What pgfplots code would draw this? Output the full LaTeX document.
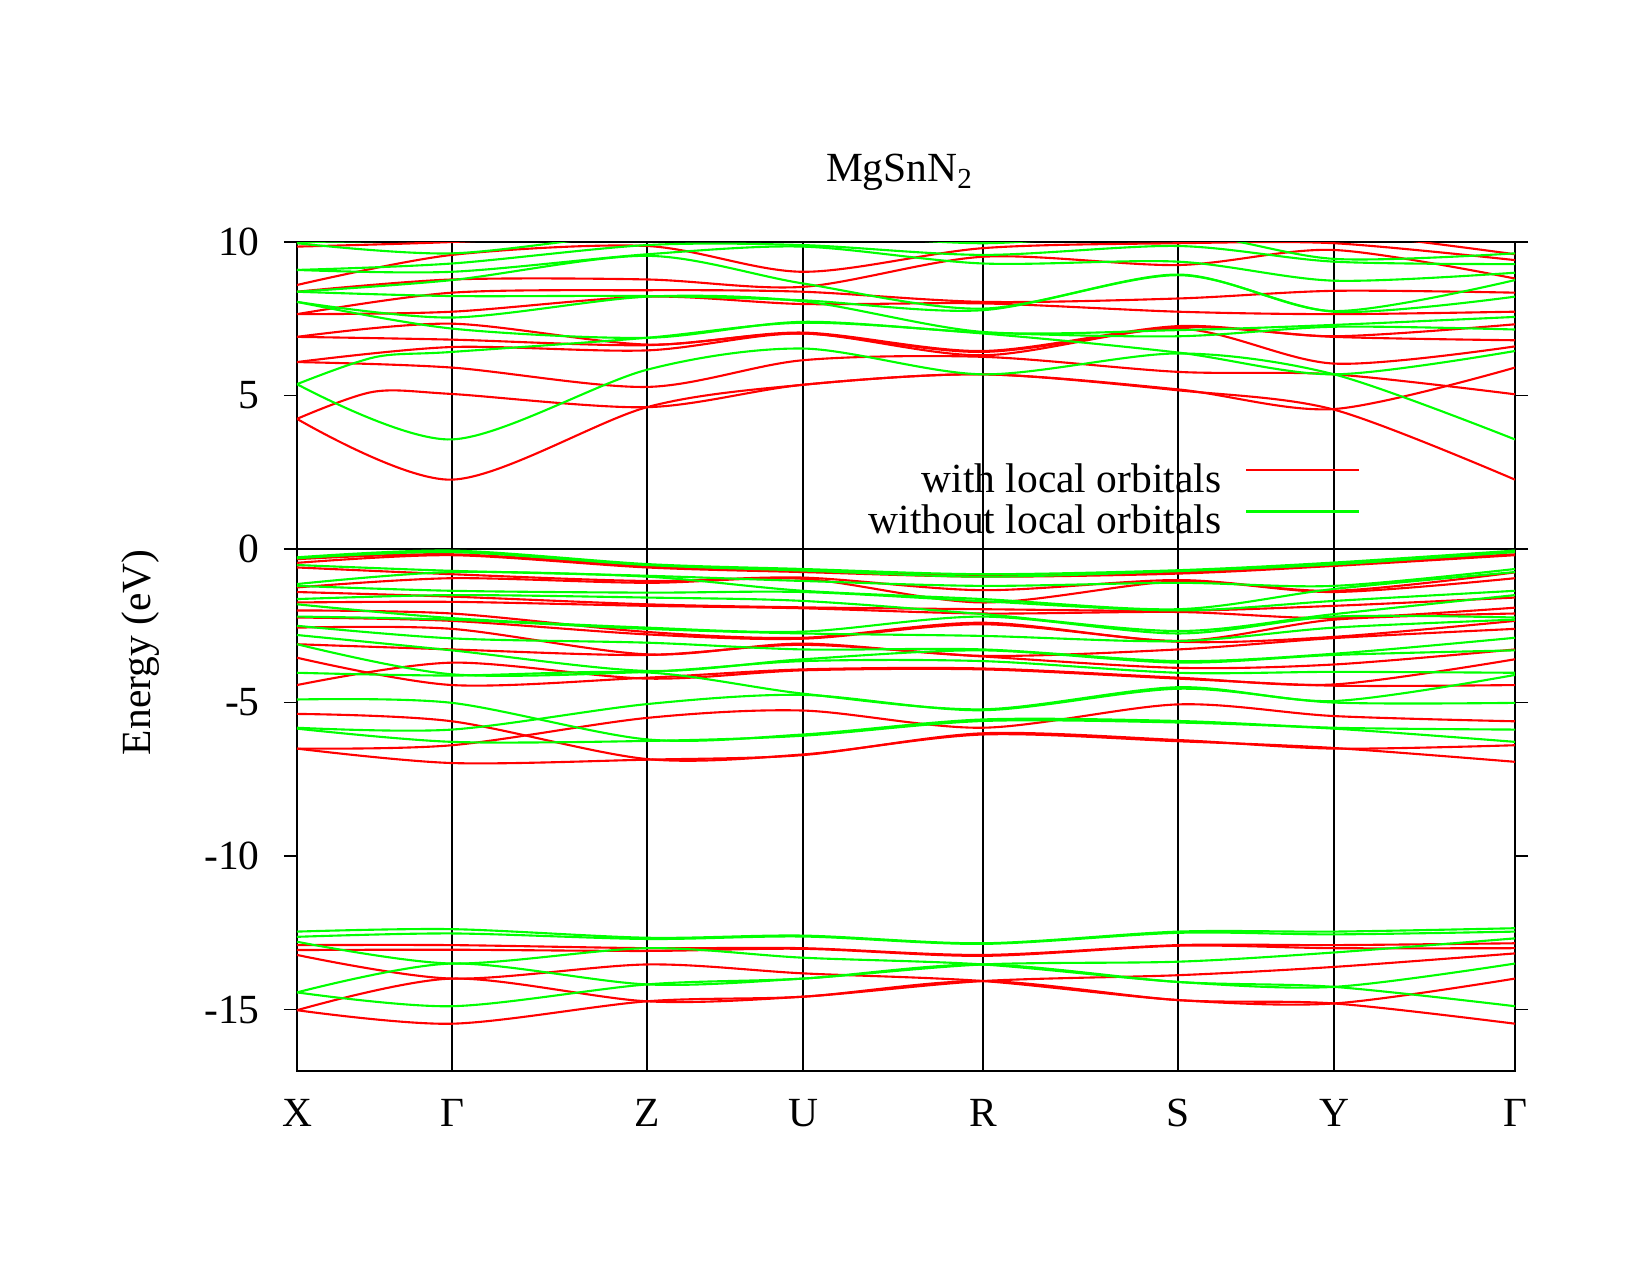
\documentclass[border=0pt]{standalone}
\usepackage{fontspec}
\setmainfont{Liberation Serif}
\usepackage{pgfplots}
\pgfplotsset{compat=1.18}
\begin{document}
\begin{tikzpicture}
\path[use as bounding box] (0,0) rectangle (16.5cm,12.75cm);
\begin{axis}[
  at={(2.97cm,2.04cm)}, anchor=south west,
  scale only axis, width=12.18cm, height=8.29cm,
  xmin=0, xmax=1218, ymin=-17, ymax=10,
  font=\fontsize{11.8pt}{14pt}\selectfont,
  xtick={0,155,350,506,686,881,1037,1218},
  xticklabels={X,Γ,Z,U,R,S,Y,Γ},
  xmajorgrids, grid style={black, line width=0.35pt},
  x tick style={draw=none},
  ytick={-15,-10,-5,0,5,10},
  tick align=outside, major tick length=0.13cm,
  y tick style={black, line width=0.5pt},
  /pgf/number format/assume math mode=true,
  tick label style={font=\fontsize{11.8pt}{14pt}\selectfont},
  yticklabel style={xshift=-0.12cm},
  xticklabel style={yshift=-0.025cm},
  axis line style={line width=0.8pt},
  title={MgSnN\textsubscript{2}},
  title style={at={(0.495,1.047)}, anchor=base, inner sep=0pt},
  ylabel={Energy (eV)},
  ylabel style={at={(-0.1285,0.505)}, anchor=center},
  every axis plot/.append style={line width=0.6pt},
  legend plot pos=right,
  legend cell align=right,
  legend image code/.code={\draw[#1] (0cm,0.14cm) -- (1.126cm,0.14cm);},
  legend style={at={(0.8727,0.733)}, anchor=north east, draw=none, fill=none,
    inner sep=0pt, outer sep=0pt, row sep=0pt, /tikz/column sep=0.24cm,
    nodes={inner sep=0pt, text height=8.3pt, text depth=3.5pt},
    font=\fontsize{11.8pt}{14pt}\selectfont},
]
\addplot[black, line width=0.35pt, forget plot] coordinates {(0,0) (1218,0)};

% ---------- with local orbitals (red): conduction bands
\addplot[red, smooth, forget plot] coordinates {(0,4.24) (155,2.26) (350,4.62) (506,5.35) (686,5.69) (881,5.17) (1037,4.54) (1218,2.26)};
\addplot[red, smooth, forget plot] coordinates {(0,4.24) (76,5.12) (155,5.05) (350,4.62) (506,5.35) (686,5.69) (881,5.20) (1037,4.56) (1218,5.91)};
\addplot[red, smooth, forget plot] coordinates {(0,6.09) (155,5.91) (350,5.28) (506,6.15) (686,6.26) (881,5.77) (1037,5.69) (1218,5.04)};
\addplot[red, smooth, forget plot] coordinates {(0,6.09) (155,6.58) (350,6.47) (506,7.02) (686,6.31) (881,7.18) (1037,6.04) (1218,6.60)};
\addplot[red, smooth, forget plot] coordinates {(0,6.91) (155,6.82) (350,6.64) (506,7.02) (686,6.42) (881,7.22) (1037,6.91) (1218,6.80)};
\addplot[red, smooth, forget plot] coordinates {(0,6.91) (155,7.34) (350,6.66) (506,7.05) (686,6.45) (881,7.26) (1037,6.93) (1218,7.32)};
\addplot[red, smooth, forget plot] coordinates {(0,7.65) (155,7.73) (350,8.22) (506,7.98) (686,8.00) (881,7.73) (1037,7.65) (1218,7.73)};
\addplot[red, smooth, forget plot] coordinates {(0,7.65) (155,8.35) (350,8.43) (506,8.38) (686,8.05) (881,8.16) (1037,8.41) (1218,8.35)};
\addplot[red, smooth, forget plot] coordinates {(0,8.38) (155,8.78) (350,8.78) (506,8.54) (686,9.52) (881,9.25) (1037,9.74) (1218,8.81)};
\addplot[red, smooth, forget plot] coordinates {(0,8.60) (155,9.58) (350,9.87) (506,9.03) (686,9.80) (881,9.96) (1037,9.96) (1218,9.41)};
\addplot[red, smooth, forget plot] coordinates {(0,9.85) (155,10.0) (350,10.3) (506,10.2) (686,10.3) (881,10.3) (1037,10.3) (1218,9.60)};
\addplot[red, smooth, forget plot] coordinates {(0,9.96) (155,10.3) (350,10.6) (506,10.5) (686,10.6) (881,10.6) (1037,10.6) (1218,10.1)};

% ---------- red: valence bands
\addplot[red, smooth, forget plot] coordinates {(0,-0.33) (155,-0.17) (350,-0.55) (506,-0.71) (686,-0.87) (881,-0.76) (1037,-0.49) (1218,-0.17)};
\addplot[red, smooth, forget plot] coordinates {(0,-0.45) (155,-0.20) (350,-0.60) (506,-0.75) (686,-0.90) (881,-0.80) (1037,-0.55) (1218,-0.20)};
\addplot[red, smooth, forget plot] coordinates {(0,-0.60) (155,-0.82) (350,-1.04) (506,-0.93) (686,-1.34) (881,-1.01) (1037,-1.36) (1218,-0.76)};
\addplot[red, smooth, forget plot] coordinates {(0,-1.25) (155,-0.95) (350,-1.10) (506,-0.97) (686,-1.74) (881,-1.05) (1037,-1.40) (1218,-0.95)};
\addplot[red, smooth, forget plot] coordinates {(0,-1.40) (155,-1.55) (350,-1.80) (506,-1.90) (686,-1.96) (881,-2.01) (1037,-1.85) (1218,-1.58)};
\addplot[red, smooth, forget plot] coordinates {(0,-1.74) (155,-1.72) (350,-1.85) (506,-1.93) (686,-2.10) (881,-2.05) (1037,-2.25) (1218,-1.91)};
\addplot[red, smooth, forget plot] coordinates {(0,-2.00) (155,-2.10) (350,-2.70) (506,-2.89) (686,-2.40) (881,-2.99) (1037,-2.30) (1218,-2.10)};
\addplot[red, smooth, forget plot] coordinates {(0,-2.23) (155,-2.34) (350,-2.78) (506,-2.92) (686,-2.45) (881,-3.02) (1037,-2.86) (1218,-2.34)};
\addplot[red, smooth, forget plot] coordinates {(0,-2.56) (155,-2.60) (350,-3.43) (506,-3.08) (686,-3.48) (881,-3.27) (1037,-2.90) (1218,-2.60)};
\addplot[red, smooth, forget plot] coordinates {(0,-3.10) (155,-3.27) (350,-3.45) (506,-3.12) (686,-3.50) (881,-3.87) (1037,-3.76) (1218,-3.27)};
\addplot[red, smooth, forget plot] coordinates {(0,-3.54) (155,-4.43) (350,-4.19) (506,-3.92) (686,-3.89) (881,-4.19) (1037,-4.41) (1218,-3.59)};
\addplot[red, smooth, forget plot] coordinates {(0,-4.43) (155,-3.70) (350,-4.22) (506,-3.95) (686,-3.92) (881,-4.22) (1037,-4.45) (1218,-4.43)};
\addplot[red, smooth, forget plot] coordinates {(0,-5.37) (155,-5.61) (350,-6.84) (506,-6.69) (686,-6.04) (881,-6.26) (1037,-6.48) (1218,-6.93)};
\addplot[red, smooth, forget plot] coordinates {(0,-6.50) (155,-6.39) (350,-5.50) (506,-5.26) (686,-5.82) (881,-5.06) (1037,-5.44) (1218,-5.61)};
\addplot[red, smooth, forget plot] coordinates {(0,-6.50) (155,-6.97) (350,-6.86) (506,-6.71) (686,-6.00) (881,-6.22) (1037,-6.50) (1218,-6.39)};

% ---------- red: low-lying bands
\addplot[red, smooth, forget plot] coordinates {(0,-12.90) (155,-12.90) (350,-13.00) (506,-13.00) (686,-13.22) (881,-12.90) (1037,-12.90) (1218,-12.84)};
\addplot[red, smooth, forget plot] coordinates {(0,-13.06) (155,-13.05) (350,-13.09) (506,-13.02) (686,-13.25) (881,-12.92) (1037,-13.00) (1218,-13.00)};
\addplot[red, smooth, forget plot] coordinates {(0,-13.22) (155,-13.99) (350,-13.53) (506,-13.82) (686,-14.07) (881,-14.69) (1037,-14.80) (1218,-15.46)};
\addplot[red, smooth, forget plot] coordinates {(0,-15.02) (155,-13.99) (350,-14.73) (506,-14.58) (686,-14.07) (881,-13.88) (1037,-13.61) (1218,-13.17)};
\addplot[red, smooth, forget plot] coordinates {(0,-15.02) (155,-15.46) (350,-14.73) (506,-14.58) (686,-14.07) (881,-14.69) (1037,-14.80) (1218,-13.99)};

% ---------- without local orbitals (green): conduction bands
\addplot[green, smooth, forget plot] coordinates {(0,5.37) (155,3.57) (350,5.84) (506,6.53) (686,5.69) (881,6.37) (1037,5.69) (1218,3.57)};
\addplot[green, smooth, forget plot] coordinates {(0,5.37) (78,6.25) (155,6.42) (350,6.88) (506,7.37) (686,7.02) (881,6.40) (1037,5.69) (1218,6.45)};
\addplot[green, smooth, forget plot] coordinates {(0,8.05) (155,7.18) (350,6.88) (506,7.40) (686,7.05) (881,6.93) (1037,7.24) (1218,7.15)};
\addplot[green, smooth, forget plot] coordinates {(0,8.05) (155,7.54) (350,8.22) (506,8.07) (686,7.07) (881,7.13) (1037,7.30) (1218,7.56)};
\addplot[green, smooth, forget plot] coordinates {(0,8.38) (155,8.24) (350,8.24) (506,8.10) (686,7.78) (881,8.92) (1037,7.73) (1218,8.22)};
\addplot[green, smooth, forget plot] coordinates {(0,8.38) (155,8.76) (350,9.55) (506,8.65) (686,7.83) (881,8.94) (1037,7.75) (1218,8.76)};
\addplot[green, smooth, forget plot] coordinates {(0,9.09) (155,9.03) (350,9.60) (506,9.85) (686,9.30) (881,9.36) (1037,8.74) (1218,9.00)};
\addplot[green, smooth, forget plot] coordinates {(0,9.09) (155,9.30) (350,9.90) (506,9.90) (686,9.58) (881,9.87) (1037,9.36) (1218,9.28)};
\addplot[green, smooth, forget plot] coordinates {(0,9.96) (155,9.63) (350,10.3) (506,10.3) (686,9.96) (881,10.3) (1037,9.45) (1218,9.63)};
\addplot[green, smooth, forget plot] coordinates {(0,10.0) (155,10.1) (350,10.5) (506,10.5) (686,10.3) (881,10.5) (1037,10.1) (1218,10.1)};

% ---------- green: valence bands
\addplot[green, smooth, forget plot] coordinates {(0,-0.27) (155,-0.05) (350,-0.49) (506,-0.65) (686,-0.82) (881,-0.69) (1037,-0.44) (1218,-0.05)};
\addplot[green, smooth, forget plot] coordinates {(0,-0.30) (155,-0.10) (350,-0.52) (506,-0.70) (686,-0.90) (881,-0.72) (1037,-0.50) (1218,-0.10)};
\addplot[green, smooth, forget plot] coordinates {(0,-0.52) (155,-0.71) (350,-0.87) (506,-1.04) (686,-1.20) (881,-1.10) (1037,-1.20) (1218,-0.65)};
\addplot[green, smooth, forget plot] coordinates {(0,-1.14) (155,-0.75) (350,-0.90) (506,-1.36) (686,-1.63) (881,-1.96) (1037,-1.30) (1218,-0.75)};
\addplot[green, smooth, forget plot] coordinates {(0,-1.20) (155,-1.36) (350,-1.42) (506,-1.40) (686,-1.70) (881,-2.00) (1037,-1.69) (1218,-1.36)};
\addplot[green, smooth, forget plot] coordinates {(0,-1.63) (155,-1.50) (350,-1.58) (506,-1.69) (686,-2.12) (881,-2.67) (1037,-2.12) (1218,-1.50)};
\addplot[green, smooth, forget plot] coordinates {(0,-1.80) (155,-2.25) (350,-2.56) (506,-2.69) (686,-2.20) (881,-2.75) (1037,-2.20) (1218,-2.23)};
\addplot[green, smooth, forget plot] coordinates {(0,-2.20) (155,-2.30) (350,-2.60) (506,-2.75) (686,-2.83) (881,-3.00) (1037,-2.56) (1218,-2.30)};
\addplot[green, smooth, forget plot] coordinates {(0,-2.50) (155,-2.91) (350,-3.05) (506,-3.27) (686,-3.27) (881,-3.65) (1037,-3.41) (1218,-2.89)};
\addplot[green, smooth, forget plot] coordinates {(0,-2.80) (155,-3.30) (350,-3.97) (506,-3.59) (686,-3.30) (881,-3.70) (1037,-3.45) (1218,-3.30)};
\addplot[green, smooth, forget plot] coordinates {(0,-3.10) (155,-4.08) (350,-4.00) (506,-3.65) (686,-3.65) (881,-4.03) (1037,-4.00) (1218,-4.03)};
\addplot[green, smooth, forget plot] coordinates {(0,-4.03) (155,-4.12) (350,-4.02) (506,-4.71) (686,-5.22) (881,-4.50) (1037,-4.95) (1218,-4.10)};
\addplot[green, smooth, forget plot] coordinates {(0,-4.90) (155,-5.01) (350,-6.20) (506,-6.04) (686,-5.55) (881,-5.60) (1037,-5.82) (1218,-5.88)};
\addplot[green, smooth, forget plot] coordinates {(0,-5.82) (155,-5.88) (350,-5.05) (506,-4.75) (686,-5.25) (881,-4.55) (1037,-5.00) (1218,-5.01)};
\addplot[green, smooth, forget plot] coordinates {(0,-5.85) (155,-6.28) (350,-6.25) (506,-6.08) (686,-5.60) (881,-5.65) (1037,-5.85) (1218,-6.28)};

% ---------- green: low-lying bands
\addplot[green, smooth, forget plot] coordinates {(0,-12.46) (155,-12.38) (350,-12.66) (506,-12.59) (686,-12.84) (881,-12.46) (1037,-12.46) (1218,-12.35)};
\addplot[green, smooth, forget plot] coordinates {(0,-12.63) (155,-12.52) (350,-12.70) (506,-12.62) (686,-12.86) (881,-12.50) (1037,-12.55) (1218,-12.46)};
\addplot[green, smooth, forget plot] coordinates {(0,-12.79) (155,-13.50) (350,-13.00) (506,-13.31) (686,-13.53) (881,-14.10) (1037,-14.26) (1218,-14.89)};
\addplot[green, smooth, forget plot] coordinates {(0,-14.44) (155,-13.50) (350,-14.18) (506,-13.99) (686,-13.53) (881,-13.44) (1037,-13.14) (1218,-12.68)};
\addplot[green, smooth, forget plot] coordinates {(0,-14.44) (155,-14.89) (350,-14.18) (506,-13.99) (686,-13.53) (881,-14.10) (1037,-14.26) (1218,-13.50)};

\addlegendimage{red, line width=0.6pt}
\addlegendentry{with local orbitals}
\addlegendimage{green, line width=0.6pt}
\addlegendentry{without local orbitals}
\end{axis}
\end{tikzpicture}
\end{document}
